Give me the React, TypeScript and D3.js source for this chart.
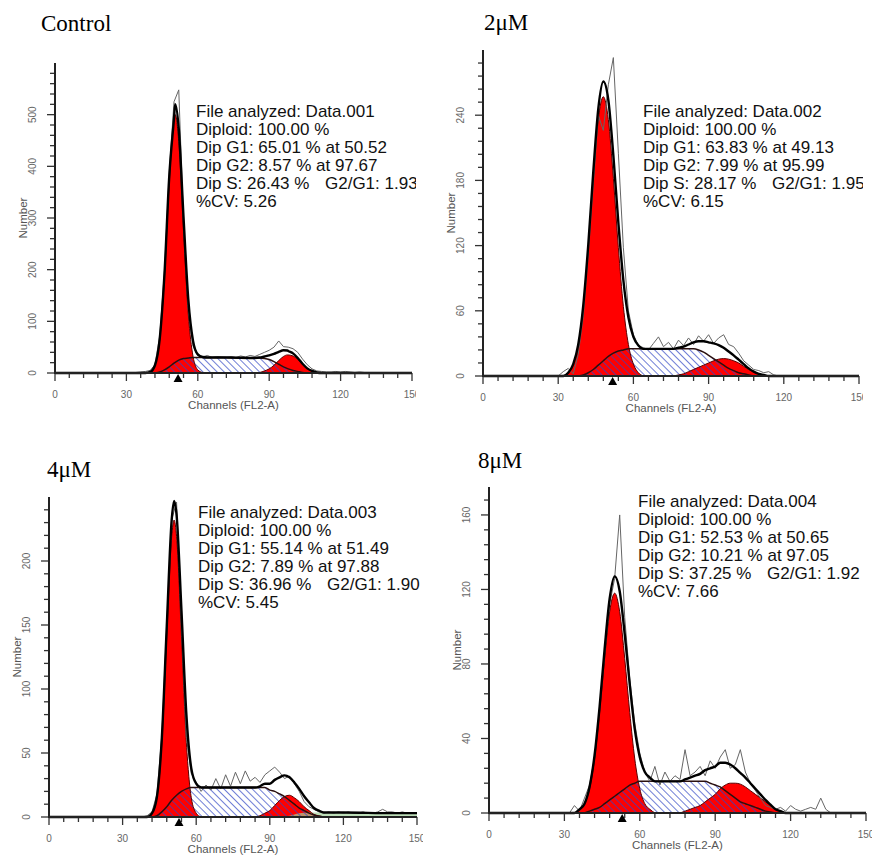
import * as d3 from 'd3';

type Pt = [number, number];

// panel titles and ModFit statistics
const TITLES = ['Control', '2μM', '4μM', '8μM'];
const FILES = ['Data.001', 'Data.002', 'Data.003', 'Data.004'];
const DIPLOID = [100.0, 100.0, 100.0, 100.0];
const G1_PCT = [65.01, 63.83, 55.14, 52.53];
const G1_AT = [50.52, 49.13, 51.49, 50.65];
const G2_PCT = [8.57, 7.99, 7.89, 10.21];
const G2_AT = [97.67, 95.99, 97.88, 97.05];
const S_PCT = [26.43, 28.17, 36.96, 37.25];
const G2_G1 = [1.93, 1.95, 1.9, 1.92];
const CV = [5.26, 6.15, 5.45, 7.66];

// axes
const X_MAX = 150;
const X_MAJOR = 30;
const X_MINOR = 6;
const Y_MAX = [600, 300, 250, 175];
const Y_MAJOR = [100, 60, 50, 40];
const Y_MINOR = [20, 12, 10, 8];
const MARKER = [51.7, 51.7, 53, 53];

// raw histograms, counts at channels 30, 32, ..., 150
const RAW_CHANNELS = d3.range(30, 151, 2);
const RAW_CONTROL = [
  0, 0, 1, 2, 3, 5, 16, 72, 198, 388,
  525, 548, 292, 122, 52, 33, 31, 34, 30, 32,
  31, 30, 32, 30, 33, 31, 34, 32, 36, 40,
  44, 50, 62, 51, 50, 47, 40, 27, 16, 8,
  4, 3, 2, 2, 3, 2, 3, 2, 1, 2,
  1, 1, 0, 0, 0, 0, 0, 0, 0, 0,
  0,
];
const RAW_2UM = [
  0, 4, 7, 2, 20, 55, 112, 176, 240, 226,
  268, 293, 205, 118, 60, 38, 28, 26, 24, 30,
  36, 27, 31, 25, 33, 28, 35, 29, 37, 32,
  38, 30, 35, 38, 29, 27, 21, 14, 10, 6,
  5, 3, 4, 1, 0, 0, 0, 0, 0, 0,
  0, 0, 0, 0, 0, 0, 0, 0, 0, 0,
  0,
];
const RAW_4UM = [
  0, 0, 0, 0, 0, 1, 4, 18, 64, 150,
  232, 246, 150, 62, 34, 27, 20, 25, 21, 30,
  22, 33, 24, 35, 26, 36, 28, 31, 27, 33,
  36, 39, 35, 30, 32, 26, 20, 12, 8, 6,
  4, 3, 4, 3, 4, 3, 4, 3, 3, 4,
  3, 3, 4, 6, 4, 4, 3, 4, 3, 3,
  3,
];
const RAW_8UM = [
  0, 0, 4, 1, 8, 15, 30, 55, 86, 112,
  126, 160, 105, 72, 48, 32, 22, 17, 25, 15,
  22, 17, 20, 18, 34, 20, 22, 25, 20, 28,
  24, 30, 34, 24, 26, 34, 22, 16, 12, 8,
  4, 3, 2, 3, 1, 4, 2, 1, 2, 3,
  2, 8, 2, 0, 0, 0, 0, 0, 0, 0,
  0,
];

// fitted model components, [channel, count]
const G1_CONTROL: Pt[] = [[38, 0], [40, 2], [42, 15], [44, 64], [46, 186], [48, 368], [50.5, 500], [52, 448], [54, 274], [56, 114], [58, 32], [60, 6], [62, 1], [64, 0]];
const S_CONTROL: Pt[] = [[42, 0], [44, 2], [46, 6], [48, 12], [50, 19], [52, 25], [54, 28], [56, 29], [58, 30], [72, 30], [86, 29], [88, 28], [90, 26], [92, 22], [94, 17], [96, 12], [98, 8], [100, 5], [102, 3], [104, 1], [106, 0]];
const G2_CONTROL: Pt[] = [[84, 0], [86, 1], [88, 4], [90, 8], [92, 15], [94, 24], [96, 32], [97.7, 35], [100, 33], [102, 26], [104, 17], [106, 9], [108, 4], [110, 1], [112, 0]];

const G1_2UM: Pt[] = [[32, 0], [34, 3], [36, 11], [38, 29], [40, 64], [42, 118], [44, 182], [46, 236], [48, 257], [50, 236], [52, 182], [54, 118], [56, 64], [58, 29], [60, 11], [62, 3], [64, 0]];
const S_2UM: Pt[] = [[38, 0], [40, 1], [42, 3], [44, 6], [46, 10], [48, 14], [50, 18], [52, 21], [54, 23], [56, 24], [58, 25], [72, 25], [84, 25], [86, 24], [88, 22], [90, 19], [92, 16], [94, 13], [96, 10], [98, 7], [100, 5], [102, 3], [104, 2], [106, 1], [108, 0]];
const G2_2UM: Pt[] = [[76, 0], [78, 1], [80, 2], [82, 4], [84, 6], [86, 8], [88, 10], [90, 12], [92, 14], [94, 15.5], [96, 16], [98, 15.5], [100, 14], [102, 12], [104, 9], [106, 6], [108, 4], [110, 2], [112, 1], [114, 0]];

const G1_4UM: Pt[] = [[40, 0], [42, 3], [44, 15], [46, 58], [48, 141], [50, 219], [51, 232], [52, 219], [54, 141], [56, 58], [58, 15], [60, 3], [62, 0]];
const S_4UM: Pt[] = [[42, 0], [44, 1], [46, 4], [48, 8], [50, 13], [52, 17], [54, 20], [56, 22], [58, 23], [72, 23], [88, 23], [90, 21], [92, 20], [94, 18], [96, 16], [98, 13], [100, 10], [102, 7], [104, 5], [106, 3], [108, 1.5], [110, 0.5], [112, 0]];
const G2_4UM: Pt[] = [[84, 0], [86, 1], [88, 3], [90, 5], [92, 9], [94, 13], [96, 16], [98, 17], [100, 15], [102, 12], [104, 8], [106, 5], [108, 2], [110, 1], [112, 0]];
const AGG_4UM: Pt[] = [[94, 0], [98, 1], [100, 2], [102, 3], [106, 3.5], [120, 3.5], [140, 3], [150, 3]];

const G1_8UM: Pt[] = [[34, 0], [36, 2], [38, 5], [40, 13], [42, 29], [44, 54], [46, 83], [48, 108], [50, 118], [52, 108], [54, 83], [56, 54], [58, 29], [60, 13], [62, 5], [64, 2], [66, 0]];
const S_8UM: Pt[] = [[38, 0], [40, 1], [42, 2], [44, 3], [46, 5], [48, 7], [50, 9], [52, 11], [54, 13], [56, 15], [58, 16], [60, 17], [72, 17], [86, 17], [88, 16], [90, 15], [92, 14], [94, 12], [96, 10], [98, 8], [100, 6], [102, 5], [104, 4], [106, 3], [108, 2], [110, 1], [112, 0.5], [114, 0]];
const G2_8UM: Pt[] = [[76, 0], [78, 1], [80, 2], [82, 3], [84, 4], [86, 6], [88, 8], [90, 10], [92, 13], [94, 15], [96, 16], [98, 16], [100, 15.5], [102, 14], [104, 12], [106, 10], [108, 8], [110, 6], [112, 4], [114, 2], [116, 1], [118, 0]];

const PANELS = [
  { raw: RAW_CONTROL, g1: G1_CONTROL, s: S_CONTROL, g2: G2_CONTROL, agg: [] as Pt[] },
  { raw: RAW_2UM, g1: G1_2UM, s: S_2UM, g2: G2_2UM, agg: [] as Pt[] },
  { raw: RAW_4UM, g1: G1_4UM, s: S_4UM, g2: G2_4UM, agg: AGG_4UM },
  { raw: RAW_8UM, g1: G1_8UM, s: S_8UM, g2: G2_8UM, agg: [] as Pt[] },
];

// where each panel sits on the page
const LAYOUT = [
  { left: 55, right: 412, top: 63, bottom: 373, clipL: 0, clipR: 416, titleX: 41, titleY: 31, textX: 196, textY: 117 },
  { left: 483, right: 859, top: 50, bottom: 376, clipL: 436, clipR: 863, titleX: 484, titleY: 30, textX: 643, textY: 117 },
  { left: 49, right: 417, top: 497, bottom: 817, clipL: 0, clipR: 423, titleX: 47, titleY: 477, textX: 198, textY: 518 },
  { left: 489, right: 866, top: 487, bottom: 813, clipL: 436, clipR: 872, titleX: 478, titleY: 468, textX: 638, textY: 507 },
];

const SANS = 'Liberation Sans, Arial, Helvetica, sans-serif';
const SERIF = 'Liberation Serif, Times New Roman, serif';

function valueAt(pts: Pt[], c: number) {
  if (!pts.length || c < pts[0][0] || c > pts[pts.length - 1][0]) return 0;
  const j = d3.bisector((p: Pt) => p[0]).left(pts, c);
  if (pts[j][0] === c) return pts[j][1];
  const a = pts[j - 1], b = pts[j];
  return a[1] + ((b[1] - a[1]) * (c - a[0])) / (b[0] - a[0]);
}

function Panel({ i }: { i: number }) {
  const L = LAYOUT[i];
  const d = PANELS[i];
  const x = d3.scaleLinear().domain([0, X_MAX]).range([L.left, L.right]);
  const y = d3.scaleLinear().domain([0, Y_MAX[i]]).range([L.bottom, L.top]);

  const area = d3.area<Pt>().x(p => x(p[0])).y0(y(0)).y1(p => y(p[1])).curve(d3.curveMonotoneX);
  const line = d3.line<Pt>().x(p => x(p[0])).y(p => y(p[1])).curve(d3.curveMonotoneX);
  const rawLine = d3.line<Pt>().x(p => x(p[0])).y(p => y(p[1]));

  const rawPts: Pt[] = [[0, 0], ...RAW_CHANNELS.map((c, k) => [c, d.raw[k]] as Pt)];
  const comps = [d.g1, d.s, d.g2, d.agg];
  const grid = Array.from(new Set([0, X_MAX, ...comps.flatMap(c => c.map(p => p[0]))])).sort((a, b) => a - b);
  const total: Pt[] = grid.map(c => [c, d3.sum(comps, comp => valueAt(comp, c))]);

  const xTicks = d3.range(0, X_MAX + 0.1, X_MINOR);
  const yTicks = d3.range(0, Y_MAX[i] - 1, Y_MINOR[i]);
  const m = x(MARKER[i]);

  const lines = [
    `File analyzed: ${FILES[i]}`,
    `Diploid: ${DIPLOID[i].toFixed(2)} %`,
    `Dip G1: ${G1_PCT[i].toFixed(2)} % at ${G1_AT[i].toFixed(2)}`,
    `Dip G2: ${G2_PCT[i].toFixed(2)} % at ${G2_AT[i].toFixed(2)}`,
    `Dip S: ${S_PCT[i].toFixed(2)} %`,
    `%CV: ${CV[i].toFixed(2)}`,
  ];

  return (
    <g clipPath={`url(#clip${i})`}>
      <clipPath id={`clip${i}`}>
        <rect x={L.clipL} y={0} width={L.clipR - L.clipL} height={856} />
      </clipPath>

      <text x={L.titleX} y={L.titleY} fontFamily={SERIF} fontSize={23} fill="#000">{TITLES[i]}</text>

      {/* model components */}
      <path d={area(d.s) ?? ''} fill="#fff" />
      <path d={area(d.g1) ?? ''} fill="#ff0000" />
      <path d={area(d.g2) ?? ''} fill="#ff0000" />
      {d.agg.length > 0 && <path d={area(d.agg) ?? ''} fill="#9fd09a" fillOpacity={0.7} />}
      <path d={area(d.s) ?? ''} fill="url(#hatch)" />
      <path d={line(d.g1) ?? ''} fill="none" stroke="#5a0000" strokeWidth={1} />
      <path d={line(d.g2) ?? ''} fill="none" stroke="#5a0000" strokeWidth={1} />
      <path d={line(d.s) ?? ''} fill="none" stroke="#2a1010" strokeWidth={1.5} />

      {/* data and total fit */}
      <path d={rawLine(rawPts) ?? ''} fill="none" stroke="#666" strokeWidth={1} />
      <path d={line(total) ?? ''} fill="none" stroke="#000" strokeWidth={2.4} />

      {/* axes */}
      <g stroke="#333" strokeWidth={1.3}>
        {xTicks.map(v => (
          <line key={`x${v}`} x1={x(v)} x2={x(v)} y1={L.bottom} y2={L.bottom + (v % X_MAJOR === 0 ? 8 : 5)} />
        ))}
        {yTicks.map(v => (
          <line key={`y${v}`} x1={L.left} x2={L.left - (v % Y_MAJOR[i] === 0 ? 8 : 5)} y1={y(v)} y2={y(v)} />
        ))}
      </g>
      <line x1={L.left} x2={L.left} y1={y(Y_MAX[i])} y2={L.bottom + 1} stroke="#222" strokeWidth={2} />
      <line x1={L.left - 1} x2={L.right} y1={L.bottom} y2={L.bottom} stroke="#222" strokeWidth={2.2} />
      <path d={`M${m},${L.bottom + 1}L${m + 4.5},${L.bottom + 9}L${m - 4.5},${L.bottom + 9}Z`} fill="#000" />

      <g fontFamily={SANS} fontSize={10} fill="#666">
        {xTicks.filter(v => v % X_MAJOR === 0).map(v => (
          <text key={`xl${v}`} x={x(v)} y={L.bottom + 25} textAnchor="middle">{v}</text>
        ))}
        {yTicks.filter(v => v % Y_MAJOR[i] === 0).map(v => (
          <text key={`yl${v}`} transform={`translate(${L.left - 19},${y(v)}) rotate(-90)`} textAnchor="middle">{v}</text>
        ))}
      </g>
      <g fontFamily={SANS} fontSize={11.5} fill="#555" textAnchor="middle">
        <text x={(L.left + L.right) / 2} y={L.bottom + 36}>Channels (FL2-A)</text>
        <text transform={`translate(${L.left - 28},${(L.top + L.bottom) / 2}) rotate(-90)`}>Number</text>
      </g>

      {/* statistics box */}
      <g fontFamily={SANS} fontSize={17} fill="#111">
        {lines.map((t, k) => (
          <text key={k} x={L.textX} y={L.textY + k * 18}>{t}</text>
        ))}
        <text x={L.textX + 129} y={L.textY + 4 * 18}>{`G2/G1: ${G2_G1[i].toFixed(2)}`}</text>
      </g>
    </g>
  );
}

export default function App() {
  return (
    <svg width={872} height={856} style={{ position: 'absolute', left: 0, top: 0, background: '#fff' }}>
      <defs>
        <pattern id="hatch" width={5} height={5} patternUnits="userSpaceOnUse" patternTransform="rotate(-45)">
          <line x1={0} y1={0} x2={0} y2={5} stroke="#3046c4" strokeWidth={1.4} />
        </pattern>
      </defs>
      {PANELS.map((_, i) => (
        <Panel key={i} i={i} />
      ))}
    </svg>
  );
}
